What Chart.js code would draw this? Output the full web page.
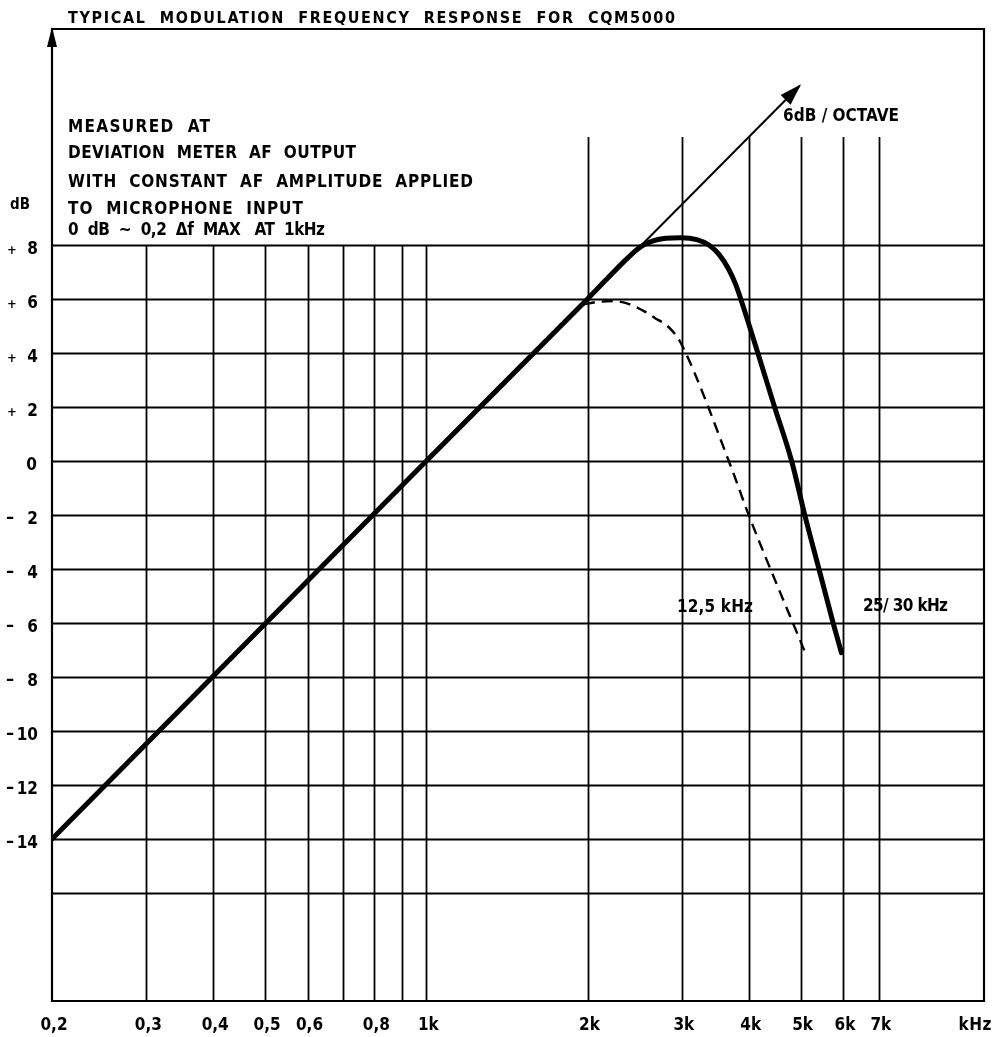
<!DOCTYPE html>
<html><head><meta charset="utf-8">
<script src="https://cdn.jsdelivr.net/npm/chart.js@4.4.0/dist/chart.umd.min.js"></script>
<style>html,body{margin:0;padding:0;background:#fff;}#wrap{width:996px;height:1037px;position:relative;}</style>
</head><body><div id="wrap"><canvas id="c" width="996" height="1037"></canvas></div>
<script>
// ---- data ----
const slopeFreq = [0.2, 4.98];
const slopeDb   = [-14, 13.9];
const cqmFreq = [0.2, 1, 2, 2.4, 2.52, 2.65, 2.8, 2.99, 3.2, 3.37, 3.52, 3.67, 3.78, 3.88, 4.16, 4.47, 4.81, 5.09, 5.41, 5.75, 5.96];
const cqmDb   = [-14, 0, 6.0, 7.6, 7.95, 8.15, 8.25, 8.27, 8.2, 8.0, 7.65, 7.1, 6.55, 5.9, 4.0, 2.0, 0.0, -2.0, -4.0, -6.0, -7.1];
const narrowFreq = [1.97, 2.1, 2.24, 2.4, 2.55, 2.67, 2.8, 2.9, 3.0, 3.72, 4.0, 5.1];
const narrowDb   = [5.8, 5.9, 5.92, 5.8, 5.55, 5.3, 5.05, 4.75, 4.3, -0.3, -2.0, -7.1];
const yGridValues = [8, 6, 4, 2, 0, -2, -4, -6, -8, -10, -12, -14, -16];
const yTickValues = [8, 6, 4, 2, 0, -2, -4, -6, -8, -10, -12, -14];
const yTickLabels = ['+ 8', '+ 6', '+ 4', '+ 2', '0', '- 2', '- 4', '- 6', '- 8', '- 10', '- 12', '- 14'];
const xLowGrid  = [0.3, 0.4, 0.5, 0.6, 0.7, 0.8, 0.9, 1];
const xHighGrid = [2, 3, 4, 5, 6, 7];
const xTickValues = [0.2, 0.3, 0.4, 0.5, 0.6, 0.8, 1, 2, 3, 4, 5, 6, 7];
const xTickLabels = ['0,2', '0,3', '0,4', '0,5', '0,6', '0,8', '1k', '2k', '3k', '4k', '5k', '6k', '7k'];

const pts = (xs, ys) => xs.map((x, i) => ({x: x, y: ys[i]}));
const FONT = '"DejaVu Sans Condensed", "DejaVu Sans", sans-serif';

function fitText(ctx, txt, x, y, size, width, align) {
  ctx.font = 'bold ' + size + 'px ' + FONT;
  ctx.letterSpacing = '0px';
  const w = ctx.measureText(txt).width;
  let ls = 0;
  if (width && txt.length > 1) ls = (width - w) / (txt.length - 1);
  ctx.letterSpacing = ls + 'px';
  let x0 = x;
  const total = w + ls * (txt.length - 1);
  if (align === 'center') x0 = x - total / 2;
  else if (align === 'right') x0 = x - total;
  ctx.textAlign = 'left';
  ctx.fillText(txt, x0, y);
  ctx.letterSpacing = '0px';
}

const gridPlugin = {
  id: 'grid',
  beforeDatasetsDraw(chart) {
    const ctx = chart.ctx, xs = chart.scales.x, ys = chart.scales.y, a = chart.chartArea;
    ctx.save();
    ctx.strokeStyle = '#000';
    ctx.lineWidth = 1.8;
    ctx.lineCap = 'butt';
    yGridValues.forEach(v => {
      const py = Math.round(ys.getPixelForValue(v)) + 0.5;
      ctx.beginPath(); ctx.moveTo(a.left, py); ctx.lineTo(a.right, py); ctx.stroke();
    });
    xLowGrid.forEach(v => {
      const px = Math.round(xs.getPixelForValue(v)) + 0.5;
      ctx.beginPath(); ctx.moveTo(px, ys.getPixelForValue(8)); ctx.lineTo(px, a.bottom); ctx.stroke();
    });
    xHighGrid.forEach(v => {
      const px = Math.round(xs.getPixelForValue(v)) + 0.5;
      ctx.beginPath(); ctx.moveTo(px, ys.getPixelForValue(12)); ctx.lineTo(px, a.bottom); ctx.stroke();
    });
    // frame
    ctx.lineWidth = 2.2;
    ctx.beginPath();
    ctx.moveTo(a.left, a.top); ctx.lineTo(a.right, a.top); ctx.lineTo(a.right, a.bottom);
    ctx.lineTo(a.left, a.bottom); ctx.lineTo(a.left, a.top - 1);
    ctx.stroke();
    // arrow on y axis
    ctx.fillStyle = '#000';
    ctx.beginPath();
    ctx.moveTo(a.left, a.top - 2); ctx.lineTo(a.left - 5, a.top + 18); ctx.lineTo(a.left + 5, a.top + 18);
    ctx.closePath(); ctx.fill();
    ctx.restore();
  },
  afterDatasetsDraw(chart) {
    const ctx = chart.ctx, xs = chart.scales.x, ys = chart.scales.y;
    ctx.save();
    ctx.fillStyle = '#000';
    // arrowhead on 6 dB/octave line
    const n = slopeFreq.length;
    const x1 = xs.getPixelForValue(slopeFreq[n - 2]), y1 = ys.getPixelForValue(slopeDb[n - 2]);
    const x2 = xs.getPixelForValue(slopeFreq[n - 1]), y2 = ys.getPixelForValue(slopeDb[n - 1]);
    const ang = Math.atan2(y2 - y1, x2 - x1);
    const L = 20, W = 7;
    ctx.beginPath();
    ctx.moveTo(x2 + Math.cos(ang) * 2, y2 + Math.sin(ang) * 2);
    ctx.lineTo(x2 - Math.cos(ang) * L - Math.sin(ang) * W, y2 - Math.sin(ang) * L + Math.cos(ang) * W);
    ctx.lineTo(x2 - Math.cos(ang) * L + Math.sin(ang) * W, y2 - Math.sin(ang) * L - Math.cos(ang) * W);
    ctx.closePath(); ctx.fill();

    ctx.textBaseline = 'alphabetic';
    // title & notes
    fitText(ctx, 'TYPICAL  MODULATION  FREQUENCY  RESPONSE  FOR  CQM5000', 68, 23, 16, 607);
    fitText(ctx, 'MEASURED  AT', 68, 132, 17, 142);
    fitText(ctx, 'DEVIATION  METER  AF  OUTPUT', 68, 158, 17, 288);
    fitText(ctx, 'WITH  CONSTANT  AF  AMPLITUDE  APPLIED', 68, 187, 17, 405);
    fitText(ctx, 'TO  MICROPHONE  INPUT', 68, 214, 17, 235);
    fitText(ctx, '0  dB  ~  0,2  \u0394f  MAX   AT  1kHz', 68, 235, 17, 257);
    fitText(ctx, 'dB', 10, 209, 15, 0);
    fitText(ctx, '6dB / OCTAVE', 783, 121, 17, 116);
    fitText(ctx, '12,5 kHz', 677, 612, 17, 76);
    fitText(ctx, '25/ 30 kHz', 863, 611, 17, 85);
    // y tick labels
    yTickValues.forEach((v, i) => {
      const py = ys.getPixelForValue(v) + 9;
      const parts = yTickLabels[i].split(' ');
      if (parts.length === 2) {
        if (parts[0] === '-') fitText(ctx, '\u2013', 6, py - 1, 18, 0);
        else fitText(ctx, '+', 7, py, 13, 0);
        fitText(ctx, parts[1], 38, py, 17, 0, 'right');
      } else {
        fitText(ctx, parts[0], 37, py, 17, 0, 'right');
      }
    });
    // x tick labels
    xTickValues.forEach((v, i) => {
      fitText(ctx, xTickLabels[i], xs.getPixelForValue(v) + 2, 1030, 17, 0, 'center');
    });
    fitText(ctx, 'kHz', 975, 1030, 17, 33, 'center');
    ctx.restore();
  }
};

new Chart(document.getElementById('c'), {
  type: 'line',
  data: {
    datasets: [
      { label: '6 dB/octave', data: pts(slopeFreq, slopeDb), borderColor: '#000', borderWidth: 2, pointRadius: 0, tension: 0, order: 3 },
      { label: '12,5 kHz', data: pts(narrowFreq, narrowDb), borderColor: '#000', borderWidth: 2.4, borderDash: [11, 7], pointRadius: 0, cubicInterpolationMode: 'monotone', order: 2 },
      { label: '25/30 kHz', data: pts(cqmFreq, cqmDb), borderColor: '#000', borderWidth: 5, pointRadius: 0, cubicInterpolationMode: 'monotone', borderCapStyle: 'round', borderJoinStyle: 'round', order: 1 }
    ]
  },
  options: {
    responsive: false,
    animation: false,
    devicePixelRatio: 1,
    layout: { padding: { left: 52, right: 12, top: 29, bottom: 36 } },
    plugins: { legend: { display: false }, tooltip: { enabled: false }, title: { display: false } },
    scales: {
      x: { type: 'logarithmic', min: 0.2, max: 11, display: false },
      y: { type: 'linear', min: -20, max: 16, display: false }
    }
  },
  plugins: [gridPlugin]
});
</script>
</body></html>
